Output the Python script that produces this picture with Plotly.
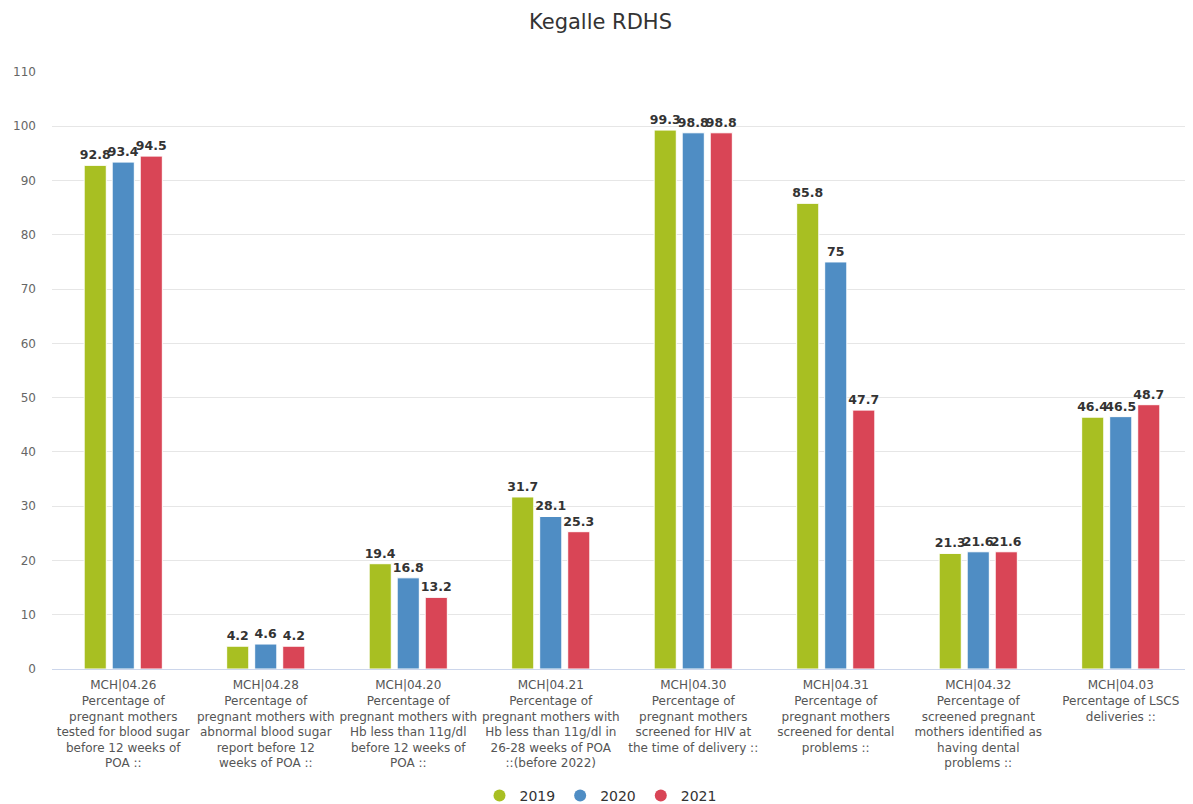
import plotly.graph_objects as go

categories = [
    "MCH|04.26<br>Percentage of<br>pregnant mothers<br>tested for blood sugar<br>before 12 weeks of<br>POA ::",
    "MCH|04.28<br>Percentage of<br>pregnant mothers with<br>abnormal blood sugar<br>report before 12<br>weeks of POA ::",
    "MCH|04.20<br>Percentage of<br>pregnant mothers with<br>Hb less than 11g/dl<br>before 12 weeks of<br>POA ::",
    "MCH|04.21<br>Percentage of<br>pregnant mothers with<br>Hb less than 11g/dl in<br>26-28 weeks of POA<br>::(before 2022)",
    "MCH|04.30<br>Percentage of<br>pregnant mothers<br>screened for HIV at<br>the time of delivery ::",
    "MCH|04.31<br>Percentage of<br>pregnant mothers<br>screened for dental<br>problems ::",
    "MCH|04.32<br>Percentage of<br>screened pregnant<br>mothers identified as<br>having dental<br>problems ::",
    "MCH|04.03<br>Percentage of LSCS<br>deliveries ::",
]
v2019 = [92.8, 4.2, 19.4, 31.7, 99.3, 85.8, 21.3, 46.4]
v2020 = [93.4, 4.6, 16.8, 28.1, 98.8, 75, 21.6, 46.5]
v2021 = [94.5, 4.2, 13.2, 25.3, 98.8, 47.7, 21.6, 48.7]

series = [("2019", v2019, "#a8bf22"), ("2020", v2020, "#4f8dc4"), ("2021", v2021, "#d94556")]

FONT = "DejaVu Sans"

fig = go.Figure()
for name, vals, color in series:
    fig.add_trace(go.Bar(
        x=categories, y=vals, name=name, showlegend=False,
        marker=dict(color=color, line=dict(color="white", width=1)),
        text=[f"{v:g}" for v in vals], textposition="outside",
        textfont=dict(family=FONT, size=12.5, color="#333333", weight="bold"),
        cliponaxis=False,
    ))
# legend entries with circle symbols
for name, vals, color in series:
    fig.add_trace(go.Scatter(
        x=[None], y=[None], name=name, mode="markers",
        marker=dict(color=color, size=13, symbol="circle"),
        showlegend=True,
    ))

# The page body adds an 8px offset; figure is shifted so content lines up.
fig.update_layout(
    width=1185, height=804,
    paper_bgcolor="white", plot_bgcolor="white",
    font=dict(family=FONT, color="#666666", size=12),
    title=dict(text="Kegalle RDHS", x=0.5, xanchor="center", xref="container",
               y=1 - 14 / 804, yanchor="middle",
               font=dict(size=21, color="#333333", family=FONT)),
    margin=dict(l=44, r=1, t=64, b=143, autoexpand=False),
    barmode="group", bargap=0.41, bargroupgap=0.21,
    showlegend=True,
    legend=dict(orientation="h", xref="container", x=0.5, xanchor="center",
                y=-127 / 597, yanchor="middle",
                font=dict(size=14, color="#333333"), itemsizing="constant",
                traceorder="normal", itemwidth=30, tracegroupgap=0),
    xaxis=dict(showgrid=False, showline=True, linecolor="#ccd6eb", linewidth=1,
               ticks="", tickfont=dict(size=12, color="#555555"), tickangle=0,
               automargin=False, ticklabelstandoff=5),
    yaxis=dict(range=[0, 110], dtick=10, showgrid=True, gridcolor="#e6e6e6",
               zeroline=False, showline=False, ticks="", ticklabelstandoff=15,
               automargin=False, tickfont=dict(size=12, color="#666666")),
    uniformtext=dict(minsize=12.5, mode="show"),
)

fig.write_html("out.html")
